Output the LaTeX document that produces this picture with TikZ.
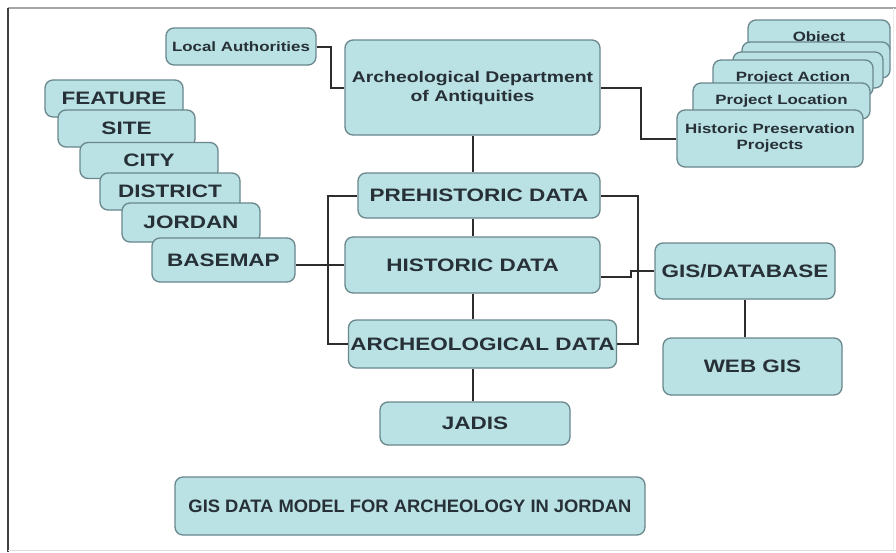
\documentclass[tikz,border=0pt]{standalone}
\usepackage{fontspec}
\setmainfont{Liberation Sans}
\newfontfamily\widesans[FakeStretch=1.25]{Liberation Sans}
\newfontfamily\titlesans[FakeStretch=1.02]{Liberation Sans}
\usepackage{xcolor}
\usetikzlibrary{positioning,calc}

\definecolor{boxfill}{RGB}{186,225,228}
\definecolor{boxline}{RGB}{105,135,140}
\definecolor{boxtext}{RGB}{38,48,54}
\definecolor{linkgray}{RGB}{45,45,45}

\begin{document}
\begin{tikzpicture}[
    x=1pt, y=-1pt,
    box/.style={draw=boxline, fill=boxfill, line width=1.3pt, rounded corners=8pt,
        text=boxtext, align=center, inner sep=2pt},
    big/.style={box, font=\widesans\bfseries\fontsize{18}{20}\selectfont},
    small/.style={box, font=\widesans\bfseries\fontsize{13.5}{16}\selectfont},
    link/.style={draw=linkgray, line width=2pt},
]
\useasboundingbox (0,0) rectangle (896,552);
\fill[white] (0,0) rectangle (896,552);

% frame
\draw[gray!70, line width=1.5pt] (896,8) -- (8,8);
\draw[gray!50!black, line width=2pt] (8,8) -- (8,552);
\draw[gray!25, line width=1pt] (8,550) -- (896,550);
\draw[gray!15, line width=1pt] (893,8) -- (893,550);

% basemap layers
\node[big, minimum width=138pt, minimum height=37pt] (feature) at (114,98.5) {FEATURE};
\node[big, minimum width=137pt, minimum height=37pt] (site) at (126.5,128.5) {SITE};
\node[big, minimum width=138pt, minimum height=36pt] (city) at (149,160.5) {CITY};
\node[big, minimum width=140pt, minimum height=37pt] (district) at (170,191.5) {DISTRICT};
\node[big, minimum width=138pt, minimum height=39pt] (jordan) at (191,222.5) {JORDAN};
\node[big, minimum width=143pt, minimum height=44pt] (basemap) at (223.5,260) {BASEMAP};

% project cards
\node[small, minimum width=142pt, minimum height=36pt] (object) at (819,38) {Object};
\node[small, minimum width=148pt, minimum height=36pt] (blanka) at (816,60) {};
\node[small, minimum width=150pt, minimum height=36pt] (blankb) at (808,70) {};
\node[small, minimum width=160pt, minimum height=36pt] (action) at (793,78) {Project Action};
\node[small, minimum width=177pt, minimum height=36pt] (location) at (781.5,101) {Project Location};
\node[small, minimum width=186pt, minimum height=57pt] (hpp) at (770,138.5) {Historic Preservation\\Projects};

\node[small, font=\widesans\bfseries\fontsize{13.5}{16}\selectfont, minimum width=150pt, minimum height=37pt] (local) at (241,46.5) {Local Authorities};
\node[box, font=\widesans\bfseries\fontsize{15.5}{19}\selectfont, minimum width=255pt, minimum height=95pt] (dept) at (472.5,87.5) {Archeological Department\\of Antiquities};

\node[big, minimum width=242pt, minimum height=45pt] (pre) at (479,195.5) {PREHISTORIC DATA};
\node[big, minimum width=255pt, minimum height=56pt] (hist) at (472.5,265) {HISTORIC DATA};
\node[big, minimum width=265pt, minimum height=48pt] (arch) at (482.5,344) {ARCHEOLOGICAL DATA};
\node[big, minimum width=190pt, minimum height=43pt] (jadis) at (475,423.5) {JADIS};
\node[big, minimum width=180pt, minimum height=56pt] (gis) at (745,271) {GIS/DATABASE};
\node[big, minimum width=179pt, minimum height=57pt] (web) at (752.5,366.5) {WEB GIS};
\node[big, font=\titlesans\bfseries\fontsize{18}{20}\selectfont, minimum width=470pt, minimum height=58pt] (title) at (410,506) {GIS DATA MODEL FOR ARCHEOLOGY IN JORDAN};

% connectors
\draw[link] (local.east) -- ++(14,0) |- (dept.west);
\draw[link] (dept.east) -- ++(40,0) |- (hpp.west);
\draw[link] (dept.south) -- (dept.south |- pre.north);
\draw[link] (pre.south -| hist.north) -- (hist.north);
\draw[link] (hist.south) -- (hist.south |- arch.north);
\draw[link] (jadis.north -| hist.south) -- (arch.south -| hist.south);
\draw[link] (pre.west) -- ++(-29,0) |- (arch.west);
\draw[link] (pre.east) -- ++(37,0) |- (arch.east);
\draw[link] (basemap.east |- hist.west) -- (hist.west);
\draw[link] ([yshift=-12pt]hist.east) -- ++(30,0) |- (gis.west);
\draw[link] (gis.south) -- (gis.south |- web.north);

\end{tikzpicture}
\end{document}
